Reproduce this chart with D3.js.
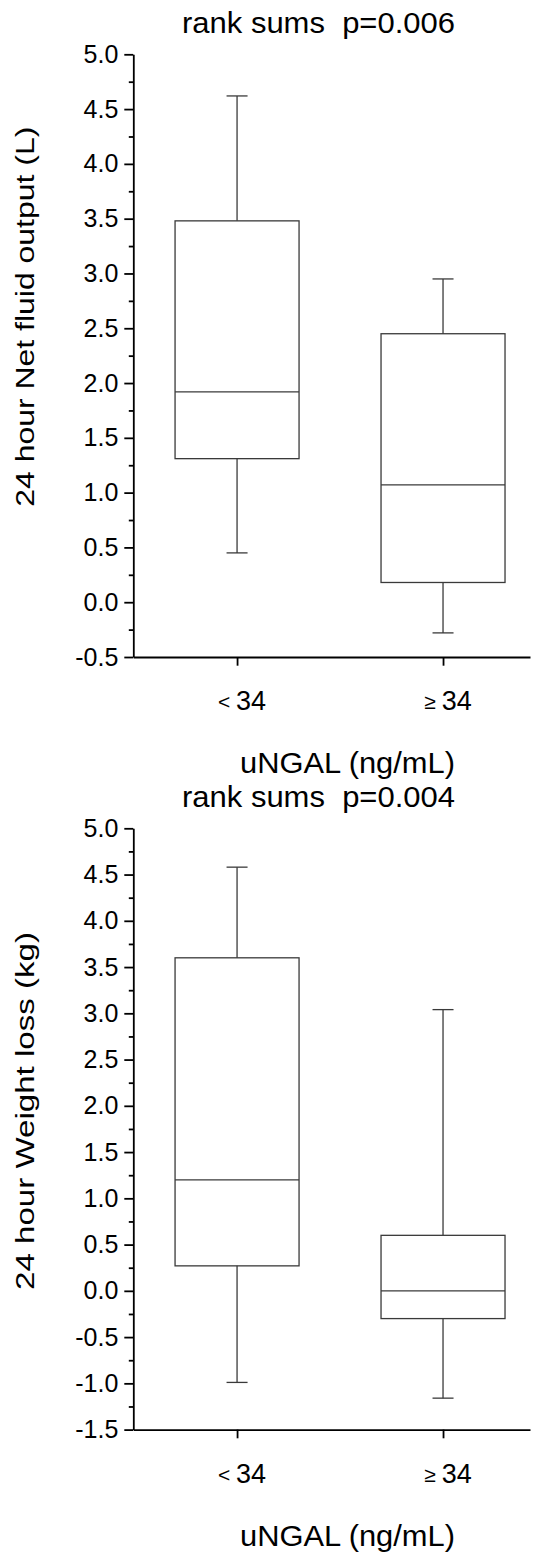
<!DOCTYPE html>
<html>
<head>
<meta charset="utf-8">
<script src="https://cdn.jsdelivr.net/npm/d3@7"></script>
<style>
  body { margin: 0; background: #fff; }
  svg { display: block; }
  text { font-family: "Liberation Sans", Arial, sans-serif; fill: #000; white-space: pre; }
</style>
</head>
<body>
<div id="graph"></div>
<script>
// categories and box stats: [lower whisker, q1, median, q3, upper whisker]
var groups = ["< 34", "\u2265 34"];
var groupSymbols = ["<", "\u2265"];
var groupNumbers = ["34", "34"];

var fluidLow = [0.45, 1.31, 1.92, 3.48, 4.62];
var fluidHigh = [-0.28, 0.18, 1.07, 2.45, 2.95];
var weightLow = [-0.99, 0.27, 1.20, 3.60, 4.58];
var weightHigh = [-1.16, -0.30, 0.00, 0.60, 3.04];

var fluidTicks = [-0.5, 0.0, 0.5, 1.0, 1.5, 2.0, 2.5, 3.0, 3.5, 4.0, 4.5, 5.0];
var weightTicks = [-1.5, -1.0, -0.5, 0.0, 0.5, 1.0, 1.5, 2.0, 2.5, 3.0, 3.5, 4.0, 4.5, 5.0];

var titles = ["rank sums  p=0.006", "rank sums  p=0.004"];
var yLabels = ["24 hour Net fluid output (L)", "24 hour Weight loss (kg)"];
var xLabel = "uNGAL (ng/mL)";

var svgWidth = 539, svgHeight = 1557;
var svg = d3.select("#graph").append("svg")
  .attr("width", svgWidth)
  .attr("height", svgHeight);

var chartLeft = 133.3, chartRight = 530;

var x = d3.scalePoint()
  .domain(groups)
  .range([chartLeft, chartRight])
  .padding(0.463)
  .align(0.544);

var step = x.step();
var boxW = step * 0.602;
var capW = step * 0.102;

function drawPanel(p) {
  var y = d3.scaleLinear()
    .domain([p.ticks[0], p.ticks[p.ticks.length - 1]])
    .range([p.bottom, p.top]);

  var g = svg.append("g");

  // minor ticks
  var minors = [];
  for (var i = 0; i < p.ticks.length - 1; i++) {
    minors.push((p.ticks[i] + p.ticks[i + 1]) / 2);
  }
  g.append("g")
    .attr("transform", `translate(${chartLeft},0)`)
    .call(d3.axisLeft(y).tickValues(minors).tickSize(4.5).tickFormat(""))
    .call(a => a.select(".domain").remove())
    .selectAll("line").attr("stroke", "#000").attr("stroke-width", 1.8);

  // y axis
  var yAxis = g.append("g")
    .attr("transform", `translate(${chartLeft},0)`)
    .call(d3.axisLeft(y).tickValues(p.ticks).tickSize(9).tickPadding(6)
      .tickFormat(d => d.toFixed(1)).tickSizeOuter(0));
  yAxis.select(".domain").attr("stroke", "#000").attr("stroke-width", 1.8);
  yAxis.selectAll("line").attr("stroke", "#000").attr("stroke-width", 1.8);
  yAxis.selectAll("text").attr("font-size", 25).attr("fill", "#000")
    .style("font-family", '"Liberation Sans", Arial, sans-serif');

  // x axis
  var xAxis = g.append("g")
    .attr("transform", `translate(0,${p.bottom})`)
    .call(d3.axisBottom(x).tickSize(8.7).tickSizeOuter(0).tickFormat(""));
  xAxis.select(".domain").attr("stroke", "#000").attr("stroke-width", 1.8);
  xAxis.selectAll("line").attr("stroke", "#000").attr("stroke-width", 1.8);

  // category labels
  groups.forEach(function (grp, i) {
    var t = g.append("text")
      .attr("x", x(grp) + 5)
      .attr("y", p.bottom + 53)
      .attr("text-anchor", "middle");
    t.append("tspan").attr("font-size", 21).attr("dy", -1).text(groupSymbols[i] + " ");
    t.append("tspan").attr("font-size", 27).attr("dy", 1).text(groupNumbers[i]);
  });

  // boxes
  var stroke = "#3a3a3a";
  p.data.forEach(function (s, i) {
    var cx = x(groups[i]);
    var bg = g.append("g").attr("stroke", stroke).attr("stroke-width", 1.3).attr("fill", "none");
    // whiskers
    bg.append("line").attr("x1", cx).attr("x2", cx).attr("y1", y(s[3])).attr("y2", y(s[4]));
    bg.append("line").attr("x1", cx).attr("x2", cx).attr("y1", y(s[1])).attr("y2", y(s[0]));
    bg.append("line").attr("x1", cx - capW / 2).attr("x2", cx + capW / 2).attr("y1", y(s[4])).attr("y2", y(s[4]));
    bg.append("line").attr("x1", cx - capW / 2).attr("x2", cx + capW / 2).attr("y1", y(s[0])).attr("y2", y(s[0]));
    // box
    bg.append("rect")
      .attr("x", cx - boxW / 2)
      .attr("y", y(s[3]))
      .attr("width", boxW)
      .attr("height", y(s[1]) - y(s[3]));
    // median
    bg.append("line").attr("x1", cx - boxW / 2).attr("x2", cx + boxW / 2).attr("y1", y(s[2])).attr("y2", y(s[2]));
  });

  // title
  g.append("text")
    .attr("x", 318.5)
    .attr("y", p.top - 21)
    .attr("text-anchor", "middle")
    .attr("font-size", 29)
    .attr("textLength", 273)
    .attr("lengthAdjust", "spacingAndGlyphs")
    .text(p.title);

  // x label
  g.append("text")
    .attr("x", 347.5)
    .attr("y", p.bottom + 116)
    .attr("text-anchor", "middle")
    .attr("font-size", 29)
    .attr("textLength", 215)
    .attr("lengthAdjust", "spacingAndGlyphs")
    .text(xLabel);

  // y label
  g.append("text")
    .attr("transform", `translate(33.5, ${p.yLabelCenter}) rotate(-90)`)
    .attr("text-anchor", "middle")
    .attr("font-size", 26)
    .attr("textLength", p.yLabelLength)
    .attr("lengthAdjust", "spacingAndGlyphs")
    .text(p.yLabel);
}

drawPanel({
  data: [fluidLow, fluidHigh],
  ticks: fluidTicks,
  top: 54.3, bottom: 657,
  title: titles[0], yLabel: yLabels[0],
  yLabelCenter: 316.7, yLabelLength: 380
});

drawPanel({
  data: [weightLow, weightHigh],
  ticks: weightTicks,
  top: 828.3, bottom: 1429.6,
  title: titles[1], yLabel: yLabels[1],
  yLabelCenter: 1111, yLabelLength: 358
});
</script>
</body>
</html>
